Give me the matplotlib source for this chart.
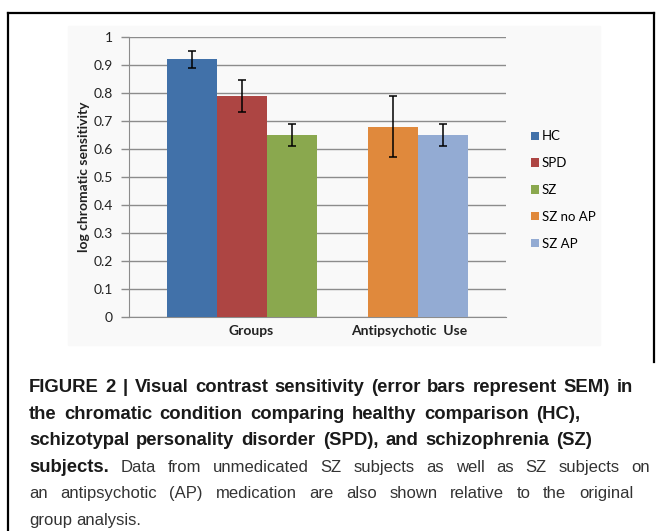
import numpy as np
import matplotlib
matplotlib.use("Agg")
import matplotlib.pyplot as plt
from matplotlib.lines import Line2D
from matplotlib.patches import Rectangle, Patch
from matplotlib.transforms import IdentityTransform

# data
series = ["HC", "SPD", "SZ", "SZ no AP", "SZ AP"]
values = [0.92, 0.79, 0.65, 0.68, 0.65]
sem = [0.03, 0.058, 0.04, 0.108, 0.04]
groups = ["Groups", "Antipsychotic  Use"]
yticks = [0, 0.1, 0.2, 0.3, 0.4, 0.5, 0.6, 0.7, 0.8, 0.9, 1]
ytick_labels = ["0", "0.1", "0.2", "0.3", "0.4", "0.5", "0.6", "0.7", "0.8", "0.9", "1"]

caption = [
    "FIGURE 2 | Visual contrast sensitivity (error bars represent SEM) in",
    "the chromatic condition comparing healthy comparison (HC),",
    "schizotypal personality disorder (SPD), and schizophrenia (SZ)",
    "subjects. Data from unmedicated SZ subjects as well as SZ subjects on",
    "an antipsychotic (AP) medication are also shown relative to the original",
    "group analysis.",
]
caption_bold_words = [99, 99, 99, 1, 0, 0]

colors = ["#4171a9", "#ad4543", "#8aa84e", "#e0893c", "#93abd3"]
bar_pos = [1.26, 2.26, 3.26, 5.28, 6.28]
group_pos = [2.44, 5.6]

W, H = 662, 531
fig = plt.figure(figsize=(W / 100, H / 100), dpi=100)
fig.patch.set_facecolor("white")


def fx(x):
    return x / W


def fy(y):
    return 1 - y / H


# light background of the pasted chart image
fig.patches.append(Rectangle((fx(68), fy(345)), (600 - 68) / W, (345 - 26) / H,
                             transform=fig.transFigure, color="#f9f9f9", zorder=-5))

# frame around figure box
lw_frame = 1.6
fig.add_artist(Line2D([fx(8), fx(654)], [fy(13), fy(13)], color="black", lw=lw_frame))
fig.add_artist(Line2D([fx(8), fx(8)], [fy(13), fy(531)], color="black", lw=lw_frame))
fig.add_artist(Line2D([fx(654), fx(654)], [fy(13), fy(362)], color="black", lw=lw_frame))

chart_font = "Lato"
grid_col = "#8c8c8c"
txt_col = "#222222"

ax = fig.add_axes([fx(129), fy(317), 377 / W, 280 / H])
ax.set_zorder(2)
ax.set_facecolor("none")
ax.bar(bar_pos, values, width=1.0, color=colors, zorder=3,
       yerr=sem, capsize=3.2,
       error_kw=dict(elinewidth=1.1, capthick=1.1, ecolor="black", zorder=4))
ax.set_xlim(0, 7.54)
ax.set_ylim(0, 1)
ax.set_yticks(yticks)
ax.set_yticklabels(ytick_labels, fontfamily=chart_font, fontsize=10, color=txt_col)
ax.set_xticks(group_pos)
ax.set_xticklabels(groups, fontfamily=chart_font, fontsize=10, fontweight="bold", color=txt_col)
ax.yaxis.grid(True, color=grid_col, lw=1)
ax.set_axisbelow(True)
for s in ["top", "right"]:
    ax.spines[s].set_visible(False)
ax.spines["left"].set_color(grid_col)
ax.spines["bottom"].set_color(grid_col)
ax.tick_params(axis="y", length=6, width=1, color=grid_col, pad=5.5)
ax.tick_params(axis="x", length=0, pad=6)

fig.text(fx(84), fy(177), "log chromatic sensitivity", rotation=90, ha="center", va="center",
         fontfamily=chart_font, fontsize=10, fontweight="bold", color=txt_col)

handles = [Patch(facecolor=c, edgecolor="none") for c in colors]
fig.legend(handles, series, loc="center left", bbox_to_anchor=(fx(531), fy(190)),
           frameon=False, borderpad=0, borderaxespad=0, handlelength=0.62, handleheight=0.62,
           handletextpad=0.2, labelspacing=1.12,
           prop=dict(family=chart_font, size=9.5))

# caption, placed word by word so each justified line ends where it does in the original
bold_size = 13.3
plain_size = 12
cap_left = 29
cap_right = [633, 580, 592, 650, 633, None]
cap_base = [392, 418.6, 445.2, 471.8, 498.4, 525]
renderer = fig.canvas.get_renderer()
for i, line in enumerate(caption):
    words = line.split(" ")
    texts = []
    for j, w in enumerate(words):
        bold = j < caption_bold_words[i]
        t = fig.text(0, H - cap_base[i], w, transform=IdentityTransform(), va="baseline",
                     ha="left", fontfamily="Liberation Sans",
                     fontsize=bold_size if bold else plain_size,
                     fontweight="bold" if bold else "normal",
                     color="#1a1a1a" if bold else "#333333")
        texts.append(t)
    widths = [t.get_window_extent(renderer).width for t in texts]
    if cap_right[i] is None:
        gap = 0.278 * plain_size * 100 / 72
    else:
        gap = (cap_right[i] - cap_left - sum(widths)) / max(len(words) - 1, 1)
        gap = max(gap, 4)
    x = cap_left
    for t, wdt in zip(texts, widths):
        t.set_x(x)
        x += wdt + gap

fig.savefig("out.png", dpi=100)
